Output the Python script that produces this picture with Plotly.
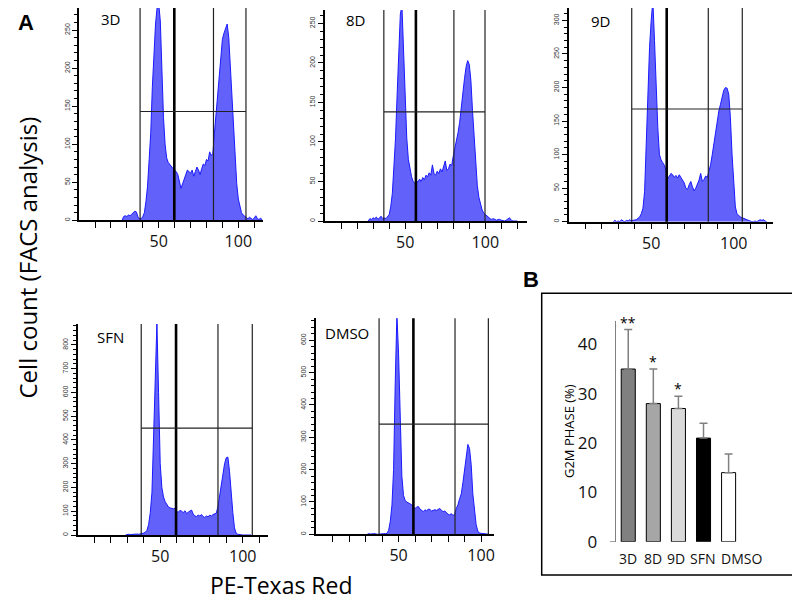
import plotly.graph_objects as go

# ---------------- panel A: DNA content histograms (1-channel bins) ----------------
names = ["3D", "8D", "9D", "SFN", "DMSO"]
first_bin = [27, 27, 27, 29, 31]

counts_3d = [0, 5, 6, 5, 7, 6, 8, 10, 12, 11,
             4, 2, 2, 5, 10, 25, 45, 80, 115, 175,
             225, 258, 280, 285, 262, 195, 135, 100, 82, 76,
             73, 70, 68, 66, 64, 60, 50, 42, 48, 55,
             60, 66, 64, 62, 66, 58, 64, 70, 66, 60,
             68, 74, 72, 80, 78, 90, 85, 88, 115, 142,
             165, 185, 215, 238, 246, 252, 258, 240, 200, 160,
             115, 80, 48, 28, 18, 10, 7, 5, 3, 2,
             4, 2, 1, 3, 6, 2, 1, 3, 0]
counts_8d = [0, 3, 2, 4, 3, 5, 2, 4, 6, 3,
             4, 3, 5, 8, 18, 35, 70, 105, 160, 215,
             262, 272, 220, 155, 105, 78, 65, 56, 50, 48,
             51, 49, 53, 50, 55, 52, 58, 56, 61, 58,
             71, 60, 58, 63, 60, 66, 62, 68, 76, 64,
             66, 72, 70, 82, 92, 100, 112, 125, 145, 163,
             180, 195, 203, 198, 178, 140, 105, 72, 45, 30,
             20, 14, 10, 8, 6, 4, 3, 2, 3, 2,
             1, 2, 2, 1, 0, 0, 1, 3, 4, 2,
             0, 0, 0, 0]
counts_9d = [0, 2, 0, 1, 0, 3, 1, 0, 2, 1,
             3, 1, 2, 2, 3, 5, 7, 12, 20, 45,
             120, 200, 260, 300, 330, 270, 200, 140, 100, 92,
             88, 84, 76, 64, 68, 72, 70, 66, 69, 65,
             70, 66, 62, 58, 50, 48, 55, 60, 52, 46,
             50, 56, 62, 72, 60, 63, 68, 66, 74, 85,
             100, 118, 135, 150, 165, 175, 188, 196, 200, 199,
             190, 155, 100, 55, 22, 12, 9, 7, 6, 5,
             3, 2, 1, 1, 0, 0, 1, 0, 2, 3,
             2, 3, 1, 0]
counts_sfn = [0, 2, 3, 2, 3, 2, 3, 4, 3, 4,
              5, 8, 12, 20, 45, 95, 180, 400, 720, 895,
              600, 300, 200, 160, 140, 130, 118, 114, 112, 110,
              112, 98, 96, 104, 100, 94, 102, 90, 96, 100,
              105, 88, 80, 78, 84, 80, 86, 78, 74, 80,
              76, 84, 80, 86, 88, 92, 120, 165, 215, 252,
              300, 325, 328, 268, 170, 95, 30, 8, 3, 1,
              0, 0, 0, 0, 0, 0, 0]
counts_dmso = [0, 2, 1, 2, 3, 2, 0, 1, 0, 1,
               2, 2, 3, 12, 40, 90, 200, 470, 680, 560,
               360, 180, 120, 105, 100, 96, 94, 91, 86, 80,
               84, 86, 78, 74, 70, 76, 72, 78, 77, 72,
               74, 76, 74, 78, 80, 74, 70, 72, 66, 62,
               60, 64, 58, 62, 80, 92, 110, 125, 160, 205,
               250, 278, 265, 215, 125, 65, 30, 10, 4, 3,
               2, 3, 2, 1, 0]

gates_3d = [38.3, 59.8, 84.4, 104.8]
gates_8d = [36.7, 56.7, 80.4, 99.8]
gates_9d = [38.2, 59.4, 84.6, 105.2]
gates_sfn = [38.5, 59.6, 85.0, 105.8]
gates_dmso = [38.2, 59.0, 84.2, 104.4]
marker_level = [143, 138, 168, 450, 341]

x_max = [115.5, 126, 124, 115.5, 108]
y_max = [283, 267, 323, 888, 668]
y_major = [50, 50, 50, 100, 100]
y_minor = [10, 10, 10, 20, 20]

# ---------------- panel B: G2M fraction ----------------
groups = ["3D", "8D", "9D", "SFN", "DMSO"]
g2m = [35, 28, 27, 21, 14]
g2m_err = [8, 7, 2.5, 3, 3.8]
stars = ["**", "*", "*", "", ""]
bar_colors = ["#808080", "#a6a6a6", "#d9d9d9", "#000000", "#ffffff"]

W, H = 800, 603
OX, OY = 8, 8   # page body margin, the figure is drawn shifted by this


def fx(px):
    return min(max((px - OX) / W, 0), 1)


def fy(py):
    return min(max(1 - (py - OY) / H, 0), 1)


# pixel boxes of each histogram (screen coords): left, right, top, bottom
boxes = [(79.1, 263, 5, 220.3), (325, 527, 10, 221), (568.7, 773.3, 5, 221.7),
         (77.7, 268.3, 324, 535), (316, 494.3, 318.3, 534.3)]
label_pos = [(110, 19), (355, 20), (600, 21), (110, 337), (347, 333)]

all_counts = [counts_3d, counts_8d, counts_9d, counts_sfn, counts_dmso]
all_gates = [gates_3d, gates_8d, gates_9d, gates_sfn, gates_dmso]

fig = go.Figure()
layout = dict(width=W, height=H, margin=dict(l=0, r=0, t=0, b=0, pad=0, autoexpand=False),
              paper_bgcolor="white", plot_bgcolor="white", showlegend=False,
              font=dict(family="Open Sans", color="black"))
shapes = []
annotations = []

for i, name in enumerate(names):
    n = i + 1
    sfx = "" if n == 1 else str(n)
    xs = list(range(first_bin[i], first_bin[i] + len(all_counts[i])))
    fig.add_trace(go.Scatter(x=xs, y=all_counts[i], xaxis="x" + sfx, yaxis="y" + sfx,
                             mode="lines", line=dict(color="#1a1aff", width=1),
                             fill="tozeroy", fillcolor="#6262fb", hoverinfo="skip"))
    left, right, top, bottom = boxes[i]
    vis_top = max(top, OY)
    ytop = y_max[i] * (bottom - vis_top) / (bottom - top)
    tv = list(range(10, int(x_max[i]) + 1, 10))
    layout["xaxis" + sfx] = dict(
        domain=[fx(left), fx(right)], anchor="y" + sfx, range=[0, x_max[i]], automargin=False,
        showline=True, linecolor="black", linewidth=1.5, showgrid=False, zeroline=False,
        ticks="outside", ticklen=6, tickwidth=1.2, tickcolor="black",
        tickvals=tv, ticktext=[str(v) if v in (50, 100) else "" for v in tv],
        tickfont=dict(size=16, color="#111"))
    layout["yaxis" + sfx] = dict(
        domain=[fy(bottom), fy(vis_top)], anchor="x" + sfx, range=[0, ytop],
        automargin=False,
        showline=True, linecolor="black", linewidth=1.5, showgrid=False, zeroline=False,
        ticks="outside", ticklen=5, tickcolor="black", dtick=y_major[i],
        tickangle=-90, tickfont=dict(size=7, color="#333", family="Liberation Sans"),
        minor=dict(dtick=y_minor[i], ticks="outside", ticklen=3, tickcolor="black"))
    g = all_gates[i]
    for k, gx in enumerate(g):
        shapes.append(dict(type="line", xref="x" + sfx, yref="y" + sfx + " domain",
                           x0=gx, x1=gx, y0=0, y1=1,
                           line=dict(color="black" if k == 1 else "#222",
                                     width=2.6 if k == 1 else 1.2)))
    shapes.append(dict(type="line", xref="x" + sfx, yref="y" + sfx,
                       x0=g[0], x1=g[-1], y0=marker_level[i], y1=marker_level[i],
                       line=dict(color="#222", width=1.2)))
    lx, ly = label_pos[i]
    annotations.append(dict(text=name, x=fx(lx), y=fy(ly), xref="paper", yref="paper",
                            showarrow=False, font=dict(size=15), xanchor="center", yanchor="middle"))

# bar chart
fig.add_trace(go.Bar(x=groups, y=g2m, xaxis="x6", yaxis="y6",
                     marker=dict(color=bar_colors, line=dict(color="black", width=1)),
                     error_y=dict(type="data", array=g2m_err, arrayminus=[0] * len(g2m),
                                  color="#808080", thickness=1.5, width=4),
                     width=0.56, hoverinfo="skip"))
layout["xaxis6"] = dict(domain=[fx(615.7), fx(764.1)], anchor="y6", type="category",
                        automargin=False, showticklabels=False,
                        showline=False, ticks="", showgrid=False, zeroline=False)
layout["yaxis6"] = dict(domain=[fy(541.7), fy(320.7)], anchor="x6", range=[0, 44.8],
                        automargin=False,
                        dtick=10, showline=True, linecolor="#808080", linewidth=1.2,
                        showgrid=False, zeroline=False, ticks="", ticklabelstandoff=14,
                        tickfont=dict(size=17, color="#111"),
                        title=dict(text="G2M PHASE (%)", font=dict(size=13), standoff=0))
shapes.append(dict(type="line", xref="paper", yref="y6", x0=fx(610), x1=fx(615.7),
                   y0=0, y1=0, line=dict(color="#808080", width=1.2)))
label_shift = [0, 0, -2, -1, 13]   # DMSO label sits right of its bar in the original
for grp, v, e, s, dx in zip(groups, g2m, g2m_err, stars, label_shift):
    annotations.append(dict(text=grp, x=grp, y=0, xref="x6", yref="y6", showarrow=False,
                            yanchor="middle", yshift=-17, xshift=dx,
                            font=dict(size=14, color="#111")))
    if s:
        annotations.append(dict(text=s, x=grp, y=v + e, xref="x6", yref="y6", showarrow=False,
                                yanchor="bottom", yshift=-4, font=dict(size=14)))

shapes.append(dict(type="rect", xref="paper", yref="paper",
                   x0=fx(541.7), x1=fx(793.3), y0=fy(575), y1=fy(293.3),
                   line=dict(color="black", width=1.5)))

annotations += [
    dict(text="<b>A</b>", x=fx(26), y=1, xref="paper", yref="paper", showarrow=False,
         font=dict(size=22, family="Liberation Sans"), xanchor="center", yanchor="top"),
    dict(text="<b>B</b>", x=fx(531), y=fy(280), xref="paper", yref="paper", showarrow=False,
         font=dict(size=22, family="Liberation Sans"), xanchor="center", yanchor="middle"),
    dict(text="Cell count (FACS analysis)", x=0, y=fy(258), xref="paper", yref="paper",
         showarrow=False, textangle=-90, font=dict(size=24), xanchor="left", yanchor="middle"),
    dict(text="PE-Texas Red", x=fx(281), y=fy(585), xref="paper", yref="paper",
         showarrow=False, font=dict(size=23), xanchor="center", yanchor="middle"),
]
layout["shapes"] = shapes
layout["annotations"] = annotations
fig.update_layout(**layout)

fig.write_html("out.html")
